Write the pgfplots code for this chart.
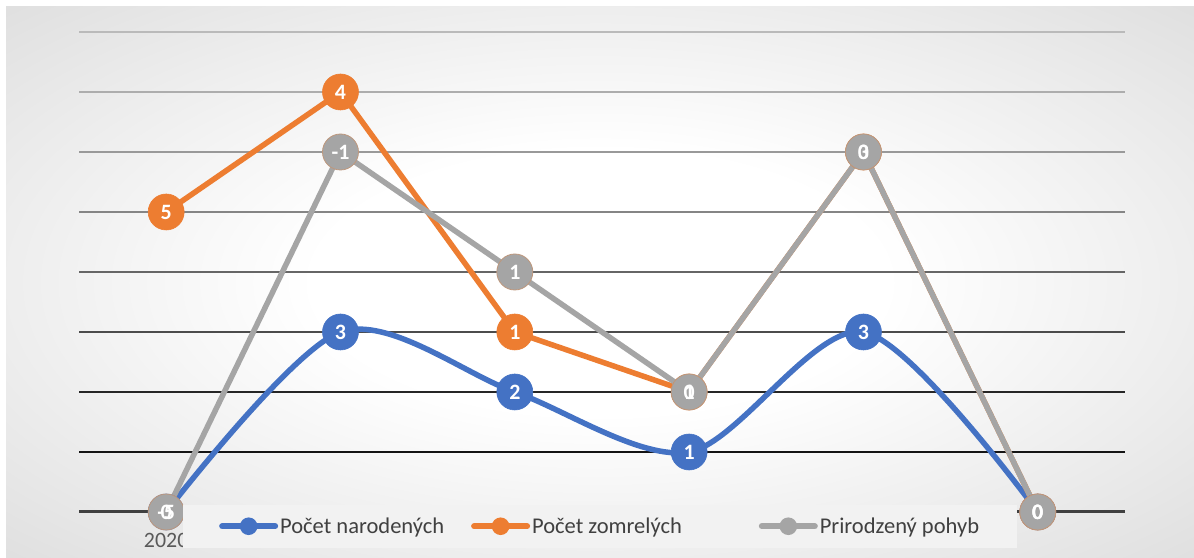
\documentclass[border=0pt]{standalone}
\usepackage{pgfplots}
\pgfplotsset{compat=1.18}
\usepackage{fontspec}
\setmainfont{Carlito}
\definecolor{cblue}{HTML}{4472C4}
\definecolor{corange}{HTML}{ED7D31}
\definecolor{cgray}{HTML}{A5A5A5}
\definecolor{legfill}{HTML}{F2F2F2}
\definecolor{txt}{HTML}{404040}
\definecolor{ticktxt}{HTML}{595959}
\definecolor{bgedge}{gray}{0.80}
\definecolor{bgcorner}{gray}{0.76}
\pgfdeclareradialshading{bgshade}{\pgfpoint{0bp}{0bp}}{color(0bp)=(white); color(12bp)=(white); color(50bp)=(bgedge); color(71bp)=(bgcorner); color(80bp)=(bgcorner)}
\begin{document}
\begin{tikzpicture}[x=1bp,y=1bp]
\useasboundingbox (0,0) rectangle (1194,558);
\fill[white] (0,0) rectangle (1194,558);
\shade[shading=bgshade] (6,0) rectangle (1194,551);
\begin{axis}[
  at={(79bp,46bp)}, anchor=south west,
  scale only axis, width=1046bp, height=480bp,
  xmin=-0.5, xmax=5.5, ymin=0, ymax=8,
  clip=false,
  axis line style={draw=none},
  ytick=\empty,
  xtick={0,1,2,3,4,5},
  xticklabels={2020,2021,2022,2023,2024,{}},
  major tick length=0pt,
  xticklabel style={anchor=base, yshift=-36bp, font=\fontsize{22}{26}\selectfont, text=ticktxt},
  legend columns=3,
  legend cell align=left,
  legend style={at={(axis description cs:0.0994,-0.075)}, anchor=south west,
    fill=legfill, draw=none, inner xsep=36bp, inner ysep=11bp,
    font=\fontsize{22.6}{27}\selectfont, text=txt,
    /tikz/column 2/.style={column sep=25bp},
    /tikz/column 4/.style={column sep=75bp}},
]
% gridlines
\draw[line width=2bp, black!27] (axis cs:-0.5,8) -- (axis cs:5.5,8);
\draw[line width=2bp, black!32] (axis cs:-0.5,7) -- (axis cs:5.5,7);
\draw[line width=2bp, black!40] (axis cs:-0.5,6) -- (axis cs:5.5,6);
\draw[line width=2bp, black!48] (axis cs:-0.5,5) -- (axis cs:5.5,5);
\draw[line width=2bp, black!60] (axis cs:-0.5,4) -- (axis cs:5.5,4);
\draw[line width=2bp, black!70] (axis cs:-0.5,3) -- (axis cs:5.5,3);
\draw[line width=2bp, black!85] (axis cs:-0.5,2) -- (axis cs:5.5,2);
\draw[line width=2bp, black!92] (axis cs:-0.5,1) -- (axis cs:5.5,1);
\draw[line width=3bp, black!75] (axis cs:-0.5,0) -- (axis cs:5.5,0);

\addplot[cblue, line width=5.5bp, smooth, tension=0.5, mark=*, mark size=18bp,
  mark options={line width=0.6bp, draw=cblue, fill=cblue},
  legend image code/.code={\draw[line width=6bp, line cap=round, mark=none] (0bp,0bp) -- (53bp,0bp); \fill (26.5bp,0bp) circle (6bp);}]
  coordinates {(0,0) (1,3) (2,2) (3,1) (4,3) (5,0)};
\addlegendentry{Počet narodených}
\addplot[corange, line width=5.5bp, mark=*, mark size=18bp,
  mark options={line width=0.6bp, draw=corange, fill=corange},
  legend image code/.code={\draw[line width=6bp, line cap=round, mark=none] (0bp,0bp) -- (53bp,0bp); \fill (26.5bp,0bp) circle (6bp);}]
  coordinates {(0,5) (1,7) (2,3) (3,2) (4,6) (5,0)};
\addlegendentry{Počet zomrelých}
\addplot[cgray, line width=5.5bp, mark=*, mark size=18bp,
  mark options={line width=0.8bp, draw=corange!35!cgray, fill=cgray},
  legend image code/.code={\draw[line width=6bp, line cap=round, mark=none] (0bp,0bp) -- (53bp,0bp); \fill (26.5bp,0bp) circle (6bp);}]
  coordinates {(0,0) (1,6) (2,4) (3,2) (4,6) (5,0)};
\addlegendentry{Prirodzený pohyb}

% data labels
\pgfplotsset{lbl/.style={draw=none, mark=none, forget plot, point meta=explicit symbolic,
  nodes near coords, every node near coord/.append style={anchor=center, text=white, inner sep=0pt,
  font=\bfseries\fontsize{22}{26}\selectfont}}}
\addplot[lbl] coordinates {(0,0)[0] (1,3)[3] (2,2)[2] (3,1)[1] (4,3)[3] (5,0)[0]};
\addplot[lbl] coordinates {(0,5)[5] (1,7)[4] (2,3)[1] (3,2)[1] (4,6)[3] (5,0)[0]};
\addplot[lbl] coordinates {(0,0)[-5] (1,6)[-1] (2,4)[1] (3,2)[0] (4,6)[0] (5,0)[0]};
\end{axis}
\end{tikzpicture}
\end{document}
